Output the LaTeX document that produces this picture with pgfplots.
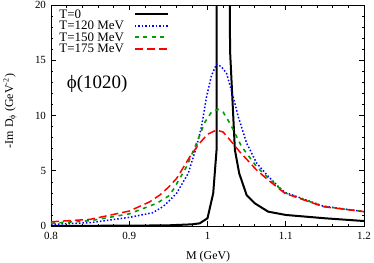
\documentclass[border=0pt]{standalone}
\usepackage{fontspec}
\setmainfont{Liberation Serif}
\usepackage{pgfplots}
\pgfplotsset{compat=1.18}
\definecolor{gpgreen}{RGB}{0,160,0}
\begin{document}
\begin{tikzpicture}
\begin{axis}[
 scale only axis, width=313bp, height=221bp,
 xmin=0.8, xmax=1.2, ymin=0, ymax=20,
 xtick={0.8,0.9,1,1.1,1.2}, xticklabels={0.8,0.9,1,1.1,1.2},
 ytick={0,5,10,15,20},
 minor x tick num=4, minor y tick num=4,
 tick align=inside, major tick length=5bp, minor tick length=2.5bp,
 tick style={black, line width=0.6bp},
 axis line style={line width=0.9bp},
 /pgf/number format/assume math mode=true,
 tick label style={font=\fontsize{11}{13}\selectfont},
 xticklabel style={yshift=-2.5bp},
 yticklabel style={xshift=-1.5bp},
 xlabel={M (GeV)},
 ylabel={-Im D\textsubscript{ϕ} (GeV\textsuperscript{-2})},
 label style={font=\fontsize{12}{14}\selectfont},
 xlabel style={at={(axis description cs:0.502,-0.14)}, anchor=center},
 ylabel style={at={(axis description cs:-0.131,0.52)}, anchor=center},
 legend style={draw=none, fill=none, at={(axis description cs:0.02,0.99)}, anchor=north west,
   font=\fontsize{13}{13}\selectfont, row sep=-2.5bp, column sep=8bp, inner sep=0pt},
 legend cell align=left,
 legend plot pos=right,
 legend image code/.code={\draw[#1] (0bp,0bp) -- (33bp,0bp);},
]
\addplot[black, line width=2bp] coordinates {
(0.80,0.01) (0.90,0.03) (0.95,0.06) (0.98,0.15) (0.99,0.24) (1.0,0.7)
(1.0073,2.96) (1.0116,6.9) (1.0118,25) (1.02,40) (1.0284,25) (1.0288,15.9)
(1.035,6.9) (1.0405,4.77) (1.05,2.8) (1.0605,2.05) (1.0775,1.3) (1.1,1.0)
(1.15,0.7) (1.2,0.45)};
\addlegendentry{T=0}
\addplot[blue, line width=1.5bp, dash pattern=on 1.5bp off 2bp] coordinates {
(0.80,0.15) (0.85,0.30) (0.90,0.78) (0.93,1.2) (0.943,1.75) (0.95,2.2)
(0.9605,2.96) (0.9754,4.77) (0.986,7.2) (0.9924,9.0) (0.9988,11.7) (1.005,13.6)
(1.0116,14.66) (1.018,14.4) (1.0244,13.8) (1.0328,11.7) (1.0393,9.9) (1.05,7.5)
(1.0627,5.7) (1.0775,4.5) (1.09,3.6) (1.0989,3.05) (1.1478,1.8) (1.2,1.3)};
\addlegendentry{T=120 MeV}
\addplot[color=gpgreen, line width=1.6bp, dash pattern=on 4bp off 4.5bp,
  legend image code/.code={\draw[gpgreen, line width=1.6bp, dash pattern=on 4bp off 4.5bp] (0bp,0.6bp) -- (33bp,0.6bp);}] coordinates {
(0.80,0.25) (0.85,0.48) (0.90,1.1) (0.935,2.05) (0.95,2.7) (0.956,3.26)
(0.9733,5.37) (0.986,7.5) (0.9967,9.4) (1.005,10.3) (1.0137,10.56) (1.02,10.3)
(1.0286,9.3) (1.0435,7.2) (1.0627,5.37) (1.0775,4.35) (1.0989,3.0) (1.1478,1.78) (1.2,1.3)};
\addlegendentry{T=150 MeV}
\addplot[red, line width=1.5bp, dash pattern=on 8bp off 4bp] coordinates {
(0.80,0.38) (0.85,0.6) (0.90,1.35) (0.9265,2.2) (0.939,2.8) (0.95,3.5)
(0.9605,4.3) (0.9775,6.27) (0.990,7.5) (1.0,8.3) (1.0116,8.69) (1.02,8.5)
(1.0286,7.8) (1.0414,6.7) (1.0627,5.07) (1.0775,4.16) (1.0989,2.96) (1.1478,1.75) (1.2,1.3)};
\addlegendentry{T=175 MeV}
\node at (axis cs:0.859,12.9) {\fontsize{19}{21}\selectfont ϕ(1020)};
\end{axis}
\pgfresetboundingbox
\useasboundingbox ([shift={(-51bp,-37bp)}]current axis.south west) rectangle ([shift={(10bp,5bp)}]current axis.north east);
\end{tikzpicture}
\end{document}
